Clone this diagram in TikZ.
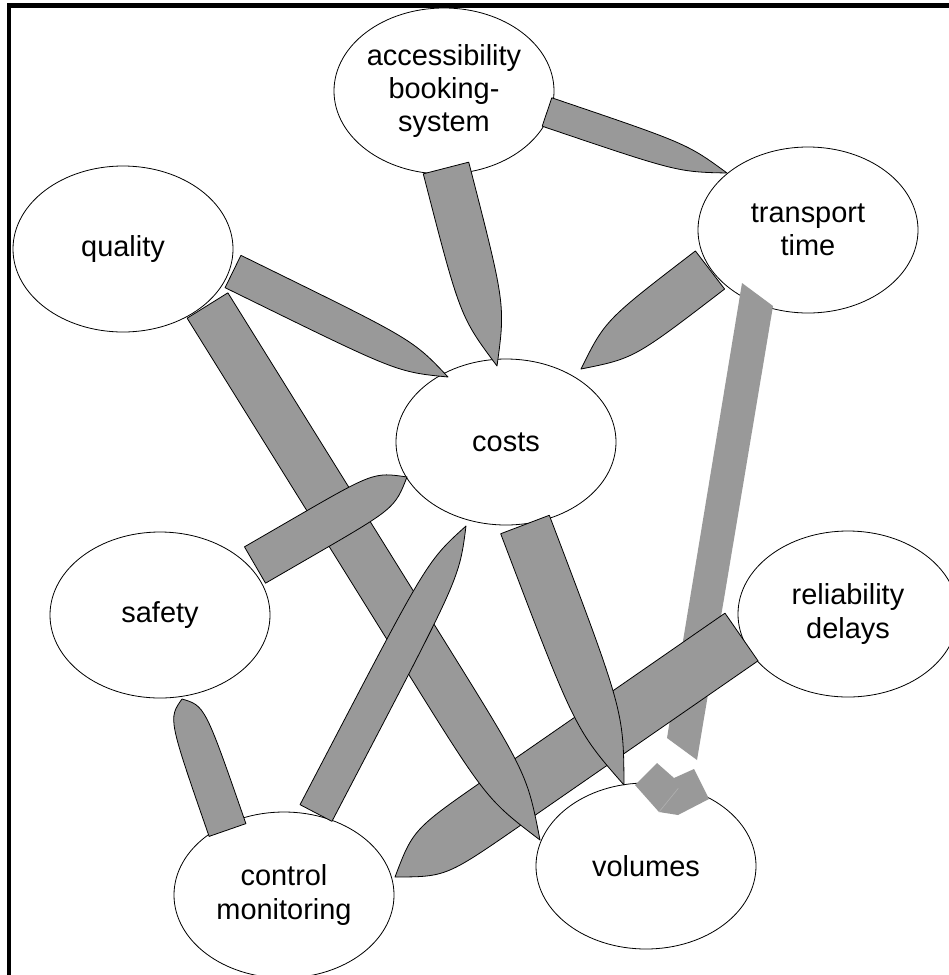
\documentclass[tikz,border=0pt]{standalone}
\usepackage{fontspec}
\setmainfont{Liberation Sans}
\usetikzlibrary{calc,shapes.geometric}

\definecolor{bladegray}{RGB}{153,153,153}
\definecolor{seamgray}{RGB}{176,176,176}

\tikzset{
  bubble/.style={ellipse, draw=black, line width=0.6pt, fill=white,
    inner sep=0pt, minimum width=165pt, minimum height=124.5pt,
    align=center, font=\fontsize{21.7}{25}\selectfont},
  blade/.style={fill=bladegray, draw=black, line width=0.6pt, line join=round},
  ghost/.style={fill=bladegray, draw=none},
  frameline/.style={line width=3.6pt, line join=miter, line cap=rect}
}

% tapered link: #2 = middle of the flat end, #3 = tip,
% #4 = half width, #5 = where the taper starts, #6 = control fraction
\newcommand\taperlink[6][]{%
  \path[blade,#1]
    ($(#2)!#4!90:(#3)$) -- ($(#2)!#5!(#3)!#4!90:(#3)$)
    .. controls ($(#2)!#6!(#3)!#4!90:(#3)$) .. (#3)
    .. controls ($(#2)!#6!(#3)!#4!-90:(#3)$) .. ($(#2)!#5!(#3)!#4!-90:(#3)$)
    -- ($(#2)!#4!-90:(#3)$) -- cycle;}

\begin{document}
\begin{tikzpicture}[x=0.75pt,y=-0.75pt]
  \useasboundingbox (0,0) rectangle (949,975);
  \fill[white] (0,0) rectangle (949,975);

  % frame
  \draw[frameline] (9,980) -- (9,5.5) -- (955,5.5);

  % topics
  \node[bubble] (acc)   at (444,91)  {accessibility\\booking-\\system};
  \node[bubble] (qual)  at (123,249) {quality};
  \node[bubble] (trans) at (808,230) {transport\\time};
  \node[bubble] (costs) at (506,442) {costs};
  \node[bubble] (safe)  at (160,615) {safety};
  \node[bubble] (rel)   at (848,614) {reliability\\delays};
  \node[bubble] (ctrl)  at (284,895) {control\\monitoring};
  \node[bubble] (vol)   at (646,866) {volumes};

  % link ends
  \coordinate (acc-trans-a)  at (547,112);
  \coordinate (acc-trans-t)  at (727,173);
  \coordinate (acc-costs-a)  at (446,168);
  \coordinate (acc-costs-t)  at (497,366);
  \coordinate (trans-costs-a) at (710,270);
  \coordinate (trans-costs-t) at (581,369);
  \coordinate (qual-costs-a) at (233,271.5);
  \coordinate (qual-costs-t) at (448,377);
  \coordinate (qual-vol-a)   at (207.5,305.5);
  \coordinate (qual-vol-t)   at (540,840);
  \coordinate (safe-costs-a) at (255,565);
  \coordinate (safe-costs-t) at (407,477);
  \coordinate (ctrl-safe-a)  at (227.5,830);
  \coordinate (ctrl-safe-t)  at (182,699);
  \coordinate (ctrl-costs-a) at (316,813);
  \coordinate (ctrl-costs-t) at (466,526);
  \coordinate (costs-vol-a)  at (525,524.5);
  \coordinate (costs-vol-t)  at (624,785);
  \coordinate (rel-ctrl-a)   at (741.5,637);
  \coordinate (rel-ctrl-t)   at (395,877);

  % transport time -> volumes, broken grey band without outline
  \coordinate (tv1) at (742,283);
  \coordinate (tv2) at (773,306);
  \coordinate (tv3) at (697,760);
  \coordinate (tv4) at (667,738);
  \fill[ghost] (tv1) -- (tv2) -- (tv3) -- (tv4) -- cycle;
  \coordinate (th1) at (635,785);
  \coordinate (th2) at (657,763);
  \coordinate (th3) at (674,778);
  \coordinate (th4) at (694,769);
  \coordinate (th5) at (709,799);
  \coordinate (th6) at (678,815);
  \coordinate (th7) at (659,812);
  \fill[ghost] (th1) -- (th2) -- (th3) -- (th4) -- (th5) -- (th6) -- (th7) -- cycle;
  \draw[seamgray, line width=0.5pt] (th7) -- ($(th7)!0.55!(th4)$);

  % links, lowest first
  \taperlink{rel-ctrl-a}{rel-ctrl-t}{21.75pt}{0.68}{0.9}
  \taperlink{qual-vol-a}{qual-vol-t}{18pt}{0.65}{0.9}
  \taperlink{costs-vol-a}{costs-vol-t}{19.5pt}{0}{0.75}
  \taperlink{safe-costs-a}{safe-costs-t}{15.75pt}{0.3}{0.85}
  \taperlink{ctrl-costs-a}{ctrl-costs-t}{13.5pt}{0.2}{0.85}
  \taperlink{ctrl-safe-a}{ctrl-safe-t}{14.6pt}{0}{0.9}
  \taperlink{acc-costs-a}{acc-costs-t}{17.6pt}{0}{0.72}
  \taperlink{acc-trans-a}{acc-trans-t}{11.25pt}{0}{0.75}
  \taperlink{trans-costs-a}{trans-costs-t}{18pt}{0}{0.7}
  \taperlink{qual-costs-a}{qual-costs-t}{13.5pt}{0.1}{0.8}
\end{tikzpicture}
\end{document}
